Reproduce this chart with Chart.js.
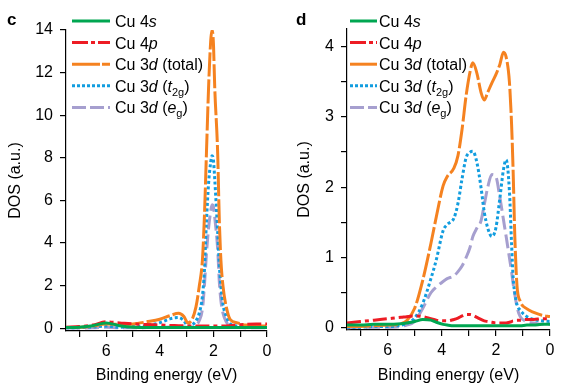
<!DOCTYPE html>
<html><head><meta charset="utf-8">
<script src="https://cdn.jsdelivr.net/npm/chart.js@4"></script>
<style>
html,body{margin:0;padding:0;background:#fff;}
#wrap{position:relative;width:562px;height:390px;}
canvas{position:absolute;top:0;}
</style></head><body>
<div id="wrap"><canvas id="cc" width="281" height="390" style="left:0"></canvas><canvas id="cd" width="281" height="390" style="left:281px"></canvas></div>
<script>
// ---------- data ----------
const panelLabels = ['c', 'd'];
const xTitle = 'Binding energy (eV)';
const yTitle = 'DOS (a.u.)';
const seriesNames = ['Cu 4s', 'Cu 4p', 'Cu 3d (total)', 'Cu 3d (t2g)', 'Cu 3d (eg)'];
const legendParts = [
  [['Cu 4', 'n'], ['s', 'i']],
  [['Cu 4', 'n'], ['p', 'i']],
  [['Cu 3', 'n'], ['d', 'i'], [' (total)', 'n']],
  [['Cu 3', 'n'], ['d', 'i'], [' (', 'n'], ['t', 'i'], ['2g', 'sub'], [')', 'n']],
  [['Cu 3', 'n'], ['d', 'i'], [' (', 'n'], ['e', 'i'], ['g', 'sub'], [')', 'n']]
];

// panel c
const energyC = [7.5, 7.0, 6.5, 6.0, 5.5, 5.0, 4.5, 4.0, 3.6, 3.3, 3.1, 2.95, 2.8, 2.65, 2.53, 2.41, 2.34, 2.26, 2.18, 2.1, 2.05, 2.0, 1.95, 1.84, 1.78, 1.72, 1.64, 1.52, 1.37, 1.1, 0.8, 0.4, 0];
const cu4sC   = [0.03,0.05,0.12,0.25,0.12,0.05,0.04,0.04,0.04,0.04,0.04,0.04,0.04,0.04,0.04,0.04,0.04,0.04,0.04,0.04,0.04,0.04,0.04,0.04,0.04,0.04,0.04,0.04,0.04,0.04,0.04,0.04,0.04];
const cu4pC   = [0.05,0.08,0.15,0.3,0.25,0.2,0.17,0.15,0.13,0.12,0.11,0.1,0.1,0.1,0.1,0.1,0.1,0.1,0.1,0.1,0.1,0.1,0.1,0.1,0.1,0.1,0.1,0.11,0.12,0.15,0.18,0.2,0.2];
const cu3dC   = [0.03,0.05,0.1,0.2,0.18,0.2,0.3,0.42,0.6,0.7,0.55,0.25,0.4,1.0,1.95,3.2,5.1,8.2,11.3,13.5,14.0,13.4,11.3,8.2,5.1,3.2,1.95,1.0,0.4,0.25,0.15,0.12,0.1];
const t2gC    = [0.02,0.03,0.05,0.1,0.05,0.08,0.12,0.26,0.45,0.5,0.35,0.1,0.15,0.35,0.7,1.5,2.6,5.0,6.8,7.8,8.1,7.9,7.0,4.5,3.0,1.95,1.1,0.55,0.2,0.1,0.08,0.06,0.05];
const egC     = [0.01,0.01,0.02,0.05,0.02,0.02,0.03,0.04,0.06,0.08,0.06,0.03,0.05,0.15,0.35,0.9,1.9,3.5,4.7,5.5,5.8,5.7,5.2,3.7,2.2,1.3,0.7,0.3,0.1,0.04,0.02,0.02,0.02];

// panel d
const energyD = [7.5, 7, 6.5, 6, 5.5, 5.3, 5.0, 4.7, 4.4, 4.2, 3.95, 3.8, 3.55, 3.4, 3.25, 3.1, 2.95, 2.85, 2.7, 2.55, 2.43, 2.3, 2.15, 2.0, 1.85, 1.72, 1.62, 1.5, 1.42, 1.36, 1.3, 1.22, 1.1, 0.85, 0.6, 0.3, 0];
const cu4sD   = [0.04,0.04,0.05,0.05,0.06,0.07,0.09,0.12,0.11,0.08,0.05,0.04,0.03,0.03,0.03,0.03,0.03,0.03,0.03,0.03,0.03,0.03,0.03,0.03,0.03,0.03,0.03,0.03,0.03,0.03,0.03,0.03,0.03,0.04,0.04,0.05,0.05];
const cu4pD   = [0.07,0.09,0.11,0.13,0.15,0.16,0.17,0.16,0.13,0.11,0.1,0.1,0.12,0.14,0.17,0.19,0.19,0.18,0.15,0.12,0.1,0.09,0.08,0.07,0.07,0.07,0.07,0.08,0.09,0.1,0.1,0.11,0.11,0.12,0.12,0.13,0.13];
const cu3dD   = [0.02,0.02,0.03,0.04,0.06,0.1,0.28,0.68,1.2,1.58,2.02,2.15,2.27,2.45,2.82,3.3,3.65,3.77,3.62,3.35,3.24,3.35,3.48,3.6,3.75,3.92,3.85,3.5,2.9,2.2,1.3,0.6,0.38,0.27,0.22,0.18,0.16];
const t2gD    = [0.01,0.01,0.02,0.02,0.04,0.06,0.14,0.35,0.7,0.97,1.38,1.47,1.56,1.77,2.12,2.42,2.5,2.51,2.35,2.0,1.65,1.42,1.3,1.42,1.85,2.25,2.39,1.95,1.2,0.7,0.5,0.33,0.25,0.16,0.12,0.1,0.09];
const egD     = [0,0.01,0.01,0.01,0.02,0.04,0.09,0.28,0.5,0.58,0.66,0.7,0.74,0.8,0.88,1.0,1.15,1.3,1.42,1.52,1.75,2.0,2.18,2.15,1.85,1.54,1.3,1.0,0.8,0.62,0.48,0.3,0.16,0.09,0.07,0.05,0.05];

// ---------- styles ----------
const FF = '"Liberation Sans", Arial, Helvetica, sans-serif';
const colors = ['#00a651', '#ed1c24', '#f58220', '#129ddf', '#a69fcf'];
const plotDash = [[], [14, 4, 4, 4], [24, 3], [3, 2.5], [14, 5]];
const legendDash = [[], [16, 3, 4, 3], [28, 2], [3, 2], [14, 4]];

Chart.defaults.font.family = FF;
Chart.defaults.font.size = 16;
Chart.defaults.color = '#000';

function buildDatasets(xs, ys) {
  return ys.map((arr, i) => ({
    label: seriesNames[i],
    data: arr.map((v, k) => ({ x: xs[k], y: v })),
    borderColor: colors[i],
    backgroundColor: colors[i],
    borderWidth: 3,
    borderDash: plotDash[i],
    borderCapStyle: 'butt',
    pointRadius: 0,
    cubicInterpolationMode: 'monotone',
    fill: false
  }));
}

function legendPlugin(opt) {
  return {
    id: 'customLegend' + opt.letter,
    afterDraw(chart) {
      const ctx = chart.ctx;
      ctx.save();
      ctx.font = 'bold 17px ' + FF;
      ctx.fillStyle = '#000';
      ctx.textBaseline = 'alphabetic';
      ctx.fillText(opt.letter, opt.letterX, 25);
      legendParts.forEach((parts, i) => {
        const y = 21 + i * 21.6;
        ctx.strokeStyle = colors[i];
        ctx.lineWidth = 3;
        ctx.lineCap = 'butt';
        ctx.setLineDash(legendDash[i]);
        ctx.beginPath();
        ctx.moveTo(opt.x0, y);
        ctx.lineTo(opt.x1, y);
        ctx.stroke();
        ctx.setLineDash([]);
        let x = opt.tx;
        parts.forEach(([t, st]) => {
          let font = '16px ' + FF, yy = y + 6;
          if (st === 'i') font = 'italic 16px ' + FF;
          if (st === 'sub') { font = '11px ' + FF; yy = y + 10; }
          ctx.font = font;
          ctx.fillStyle = '#000';
          ctx.fillText(t, x, yy);
          x += ctx.measureText(t).width;
        });
      });
      ctx.restore();
    }
  };
}

function makeChart(id, xs, ys, yopt, pad, titlePad, legOpt) {
  return new Chart(document.getElementById(id), {
    type: 'line',
    data: { datasets: buildDatasets(xs, ys) },
    options: {
      responsive: false,
      animation: false,
      devicePixelRatio: 1,
      layout: { padding: { left: 0, top: pad.top, right: pad.right, bottom: 0 } },
      plugins: { legend: { display: false }, tooltip: { enabled: false } },
      scales: {
        x: {
          type: 'linear',
          reverse: true,
          min: 0, max: 7.5,
          afterFit: s => { s.height = pad.xh; },
          border: { display: true, color: '#000', width: 1.2 },
          grid: { drawOnChartArea: false, drawTicks: true, tickLength: 6, color: '#000', lineWidth: 1.2 },
          ticks: {
            stepSize: 1, includeBounds: false, autoSkip: false, maxRotation: 0, padding: 5,
            font: { size: 16 },
            callback: v => (v % 2 === 0 ? String(v) : '')
          },
          title: { display: true, text: xTitle, font: { size: 16 }, padding: { top: 0, bottom: 5 } }
        },
        y: {
          min: yopt.min, max: yopt.max,
          afterFit: s => { s.width = 66; },
          border: { display: true, color: '#000', width: 1.2 },
          grid: { drawOnChartArea: false, drawTicks: true, tickLength: 6, color: '#000', lineWidth: 1.2 },
          ticks: {
            stepSize: yopt.step, includeBounds: false, autoSkip: false, padding: 7,
            font: { size: 16 },
            callback: yopt.cb
          },
          title: { display: true, text: yTitle, font: { size: 16 }, padding: { top: titlePad, bottom: 0 } }
        }
      }
    },
    plugins: [legendPlugin(legOpt)]
  });
}

makeChart('cc', energyC, [cu4sC, cu4pC, cu3dC, t2gC, egC],
  { min: -0.13, max: 14, step: 2, cb: v => String(v) },
  { top: 30, right: 14, xh: 59 }, 6,
  { letter: panelLabels[0], letterX: 7, x0: 72, x1: 110, tx: 115 });

makeChart('cd', energyD, [cu4sD, cu4pD, cu3dD, t2gD, egD],
  { min: -0.03, max: 4.25, step: 0.5, cb: v => (Number.isInteger(v) ? String(v) : '') },
  { top: 29, right: 12, xh: 60 }, 14,
  { letter: panelLabels[1], letterX: 15, x0: 69, x1: 96, tx: 98 });
</script>
</body></html>
